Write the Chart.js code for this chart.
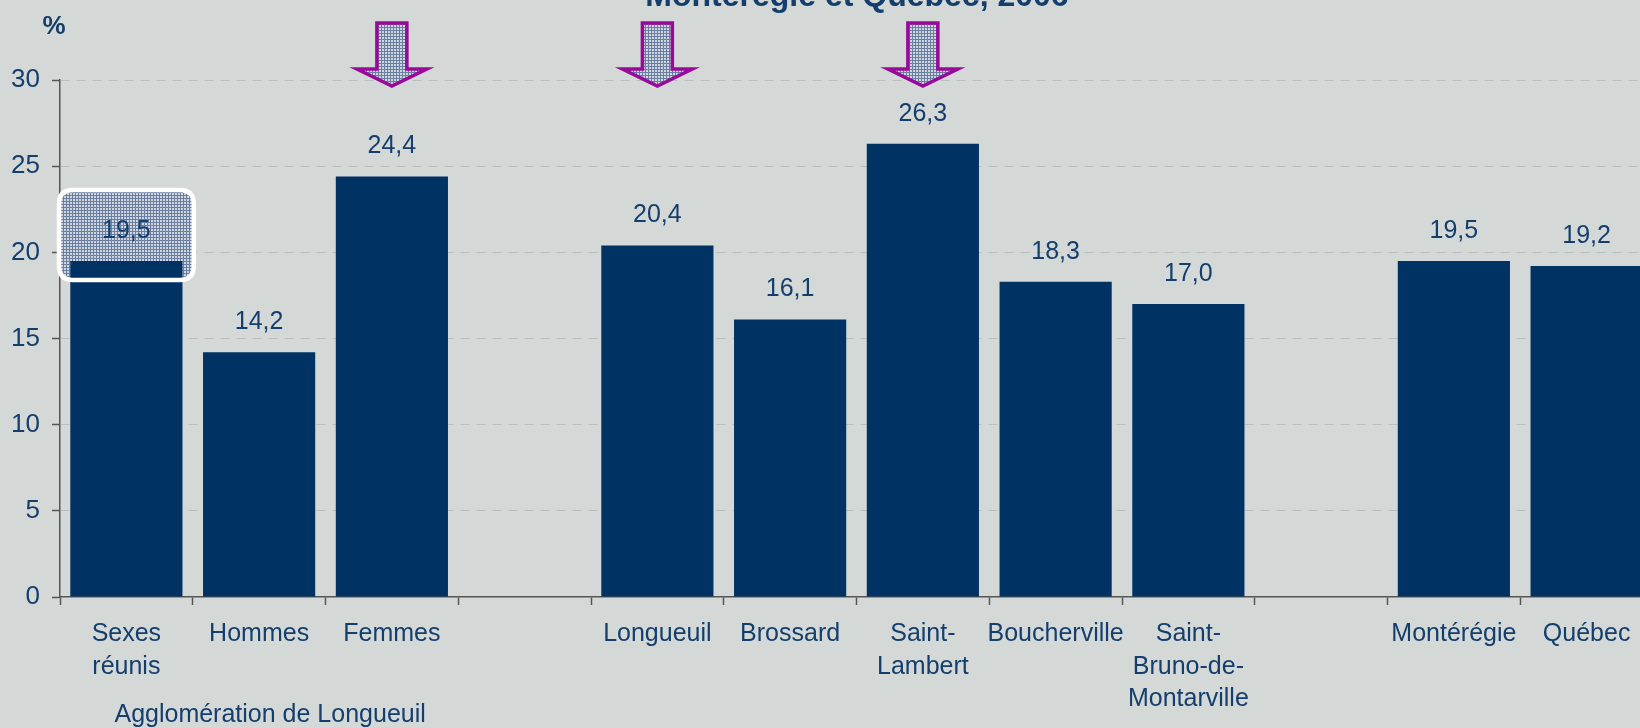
<!DOCTYPE html>
<html lang="fr">
<head>
<meta charset="utf-8">
<title>Montérégie et Québec, 2006</title>
<script src="https://cdn.jsdelivr.net/npm/chart.js@4/dist/chart.umd.min.js"></script>
<style>
    html, body {
        margin: 0;
        padding: 0;
        background: #d4d9d8;
        overflow: hidden;
    }
    #chart {
        display: block;
    }
</style>
</head>
<body>
<canvas id="chart" width="1656" height="728"></canvas>
<script>
const categories = [
    ["Sexes", "réunis"], "Hommes", "Femmes", "",
    "Longueuil", "Brossard", ["Saint-", "Lambert"], "Boucherville",
    ["Saint-", "Bruno-de-", "Montarville"], "", "Montérégie", "Québec",
];
const values = [19.5, 14.2, 24.4, null, 20.4, 16.1, 26.3, 18.3, 17.0, null, 19.5, 19.2];
const yTicks = [0, 5, 10, 15, 20, 25, 30];
const arrowIndexes = [2, 4, 6];
const highlightIndex = 0;
const groupLabel = "Agglomération de Longueuil";
const groupCenterIndex = 1;
const titleText = "Montérégie et Québec, 2006";
const unitLabel = "%";

const navy = "#003263";
const textColor = "#143e6c";
const fontFamily = "'Liberation Sans', Arial, sans-serif";

function makePattern(ctx) {
    const tile = document.createElement("canvas");
    tile.width = 3;
    tile.height = 3;
    const g = tile.getContext("2d");
    g.fillStyle = "#cfd6e0";
    g.fillRect(0, 0, 3, 3);
    g.fillStyle = "#6a7fa0";
    g.fillRect(0, 0, 3, 1);
    g.fillRect(0, 0, 1, 3);
    return ctx.createPattern(tile, "repeat");
}

function roundRect(ctx, x, y, w, h, r) {
    ctx.beginPath();
    ctx.moveTo(x + r, y);
    ctx.lineTo(x + w - r, y);
    ctx.quadraticCurveTo(x + w, y, x + w, y + r);
    ctx.lineTo(x + w, y + h - r);
    ctx.quadraticCurveTo(x + w, y + h, x + w - r, y + h);
    ctx.lineTo(x + r, y + h);
    ctx.quadraticCurveTo(x, y + h, x, y + h - r);
    ctx.lineTo(x, y + r);
    ctx.quadraticCurveTo(x, y, x + r, y);
    ctx.closePath();
}

function highlightBox(chart) {
    const xScale = chart.scales.x;
    const yScale = chart.scales.y;
    const half = (xScale.getPixelForValue(1) - xScale.getPixelForValue(0)) / 2;
    const cx = xScale.getPixelForValue(highlightIndex);
    const top = yScale.getPixelForValue(values[highlightIndex]);
    return { x: cx - half - 1, y: top - 71, w: half * 2 + 2, h: 90 };
}

const highlightPlugin = {
    id: "highlight",
    beforeDatasetsDraw(chart) {
        const ctx = chart.ctx;
        const b = highlightBox(chart);
        ctx.save();
        roundRect(ctx, b.x, b.y, b.w, b.h, 14);
        ctx.fillStyle = makePattern(ctx);
        ctx.fill();
        ctx.restore();
    },
    afterDatasetsDraw(chart) {
        const ctx = chart.ctx;
        const b = highlightBox(chart);
        ctx.save();
        roundRect(ctx, b.x, b.y, b.w, b.h, 14);
        ctx.strokeStyle = "#ffffff";
        ctx.lineWidth = 4.5;
        ctx.stroke();
        ctx.restore();
    },
};

const valueLabelsPlugin = {
    id: "valueLabels",
    afterDatasetsDraw(chart) {
        const ctx = chart.ctx;
        const meta = chart.getDatasetMeta(0);
        ctx.save();
        ctx.font = "25px " + fontFamily;
        ctx.fillStyle = textColor;
        ctx.textAlign = "center";
        ctx.textBaseline = "middle";
        meta.data.forEach((bar, i) => {
            if (values[i] === null) return;
            const label = values[i].toFixed(1).replace(".", ",");
            ctx.fillText(label, bar.x, bar.y - 30);
        });
        ctx.restore();
    },
};

const arrowsPlugin = {
    id: "arrows",
    afterDatasetsDraw(chart) {
        const ctx = chart.ctx;
        const xScale = chart.scales.x;
        const top = chart.chartArea.top;
        ctx.save();
        arrowIndexes.forEach((i) => {
            const cx = xScale.getPixelForValue(i);
            ctx.beginPath();
            ctx.moveTo(cx - 15, top - 57);
            ctx.lineTo(cx + 15, top - 57);
            ctx.lineTo(cx + 15, top - 11);
            ctx.lineTo(cx + 35, top - 11);
            ctx.lineTo(cx, top + 6);
            ctx.lineTo(cx - 35, top - 11);
            ctx.lineTo(cx - 15, top - 11);
            ctx.closePath();
            ctx.fillStyle = makePattern(ctx);
            ctx.fill();
            ctx.strokeStyle = "#9a0a9a";
            ctx.lineWidth = 3.5;
            ctx.lineJoin = "miter";
            ctx.stroke();
        });
        ctx.restore();
    },
};

const textsPlugin = {
    id: "texts",
    afterDraw(chart) {
        const ctx = chart.ctx;
        const xScale = chart.scales.x;
        ctx.save();
        ctx.fillStyle = textColor;
        ctx.textAlign = "center";

        ctx.font = "bold 32px " + fontFamily;
        ctx.textBaseline = "alphabetic";
        ctx.fillText(titleText, 857, 6);

        ctx.font = "bold 26px " + fontFamily;
        ctx.textBaseline = "middle";
        ctx.fillText(unitLabel, 54, 27);

        ctx.font = "25px " + fontFamily;
        ctx.fillText(groupLabel, xScale.getPixelForValue(groupCenterIndex) + 11, 715);
        ctx.restore();
    },
};

function renderChart() {
    const canvas = document.getElementById("chart");
    const ctx = canvas.getContext("2d");

    new Chart(ctx, {
        type: "bar",
        data: {
            labels: categories,
            datasets: [
                {
                    data: values,
                    backgroundColor: navy,
                    borderWidth: 0,
                    barPercentage: 0.845,
                    categoryPercentage: 1,
                },
            ],
        },
        options: {
            responsive: false,
            animation: false,
            layout: {
                padding: { left: 0, top: 80, right: 3, bottom: 0 },
            },
            plugins: {
                legend: { display: false },
                tooltip: { enabled: false },
                title: { display: false },
            },
            scales: {
                x: {
                    afterFit: (scale) => {
                        scale.height = 131;
                    },
                    border: { display: true, color: "#555555", width: 1.5 },
                    grid: {
                        offset: true,
                        drawOnChartArea: false,
                        drawTicks: true,
                        tickLength: 8,
                        tickColor: "#555555",
                        tickWidth: 1.5,
                    },
                    ticks: {
                        color: textColor,
                        font: { family: fontFamily, size: 25, lineHeight: 1.3 },
                        padding: 13,
                        maxRotation: 0,
                        autoSkip: false,
                    },
                },
                y: {
                    min: 0,
                    max: 30,
                    afterFit: (scale) => {
                        scale.width = 60;
                    },
                    afterBuildTicks: (scale) => {
                        scale.ticks = yTicks.map((v) => ({ value: v }));
                    },
                    border: { display: true, color: "#555555", width: 1.5, dash: [9, 7] },
                    grid: {
                        color: (c) => (c.tick && c.tick.value === 0 ? "rgba(0,0,0,0)" : "#babfbf"),
                        lineWidth: 1,
                        drawTicks: true,
                        tickLength: 8,
                        tickColor: "#555555",
                        tickWidth: 1.5,
                        tickBorderDash: [],
                    },
                    ticks: {
                        color: textColor,
                        font: { family: fontFamily, size: 26 },
                        padding: 12,
                    },
                },
            },
        },
        plugins: [highlightPlugin, valueLabelsPlugin, arrowsPlugin, textsPlugin],
    });
}

document.addEventListener("DOMContentLoaded", () => {
    renderChart();
});
</script>
</body>
</html>
